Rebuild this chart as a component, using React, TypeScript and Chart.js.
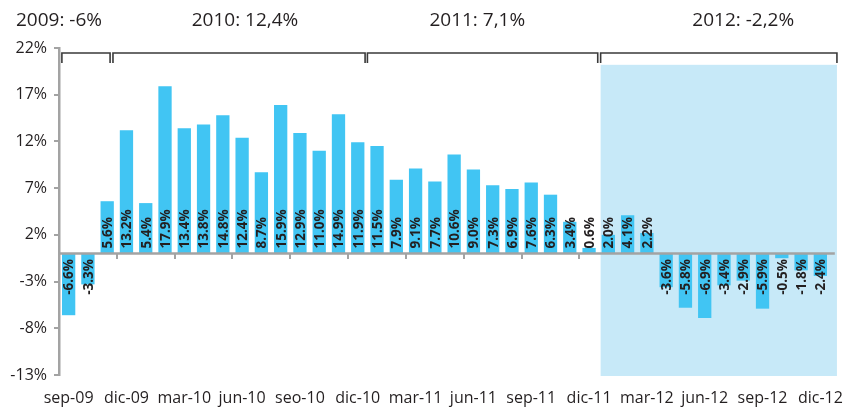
import React, { useEffect, useRef } from "react";
import { Chart, registerables } from "chart.js";

Chart.register(...registerables);

const months = [
  "sep-09", "oct-09", "nov-09", "dic-09", "ene-10", "feb-10", "mar-10", "abr-10", "may-10", "jun-10",
  "jul-10", "ago-10", "seo-10", "oct-10", "nov-10", "dic-10", "ene-11", "feb-11", "mar-11", "abr-11",
  "may-11", "jun-11", "jul-11", "ago-11", "sep-11", "oct-11", "nov-11", "dic-11", "ene-12", "feb-12",
  "mar-12", "abr-12", "may-12", "jun-12", "jul-12", "ago-12", "sep-12", "oct-12", "nov-12", "dic-12",
];

const values = [
  -6.6, -3.3, 5.6, 13.2, 5.4, 17.9, 13.4, 13.8, 14.8, 12.4,
  8.7, 15.9, 12.9, 11.0, 14.9, 11.9, 11.5, 7.9, 9.1, 7.7,
  10.6, 9.0, 7.3, 6.9, 7.6, 6.3, 3.4, 0.6, 2.0, 4.1,
  2.2, -3.6, -5.8, -6.9, -3.4, -2.9, -5.9, -0.5, -1.8, -2.4,
];

const periodTitles = ["2009: -6%", "2010: 12,4%", "2011: 7,1%", "2012: -2,2%"];
const titleCenters = [-0.5, 9.15, 21.2, 35.0];
const bracketStarts = [-0.35, 2.3, 15.5, 27.6];
const bracketEnds = [2.15, 15.38, 27.45, 39.86];
const shadeRange = [27.6, 39.86];
const shadeTop = 20.2;
const zeroLineEnd = 39.75;

const BAR = "#41C5F3";
const SHADE = "#C7E9F8";
const AXIS = "#A3A3A3";
const TEXT = "#231F20";
const FONT = "'Open Sans', 'DejaVu Sans', sans-serif";

const decor = {
  id: "decor",
  beforeDatasetsDraw(chart: any) {
    const { ctx, scales, chartArea } = chart;
    const x = scales.x;
    const y = scales.y;
    const l = x.getPixelForValue(shadeRange[0]);
    const r = x.getPixelForValue(shadeRange[1]);
    const t = y.getPixelForValue(shadeTop);
    const b = chartArea.bottom + 1;
    ctx.save();
    ctx.fillStyle = SHADE;
    ctx.fillRect(l, t, r - l, b - t);
    ctx.restore();
  },
  afterDatasetsDraw(chart: any) {
    const { ctx, scales, chartArea } = chart;
    const x = scales.x;
    const y = scales.y;
    const zeroY = y.getPixelForValue(0);
    ctx.save();
    // zero line
    ctx.strokeStyle = AXIS;
    ctx.lineWidth = 2.5;
    ctx.beginPath();
    ctx.moveTo(chartArea.left, zeroY);
    ctx.lineTo(x.getPixelForValue(zeroLineEnd), zeroY);
    ctx.stroke();

    // data labels
    const meta = chart.getDatasetMeta(0);
    ctx.fillStyle = TEXT;
    ctx.font = `700 13.5px ${FONT}`;
    ctx.textBaseline = "middle";
    meta.data.forEach((el: any, i: number) => {
      const v = values[i];
      const txt = v.toFixed(1) + "%";
      ctx.save();
      if (v >= 0) {
        ctx.translate(el.x, zeroY - 5);
        ctx.rotate(-Math.PI / 2);
        ctx.textAlign = "left";
      } else {
        ctx.translate(el.x, zeroY + 5.5);
        ctx.rotate(-Math.PI / 2);
        ctx.textAlign = "right";
      }
      ctx.fillText(txt, 0, 1);
      ctx.restore();
    });

    // brackets
    ctx.strokeStyle = "#3a3a3a";
    ctx.lineWidth = 1.6;
    const by = chartArea.top + 5;
    const bb = chartArea.top + 15;
    bracketStarts.forEach((s, i) => {
      const xs = x.getPixelForValue(s);
      const xe = x.getPixelForValue(bracketEnds[i]);
      ctx.beginPath();
      ctx.moveTo(xs, bb);
      ctx.lineTo(xs, by);
      ctx.lineTo(xe, by);
      ctx.lineTo(xe, bb);
      ctx.stroke();
    });

    // titles
    ctx.fillStyle = TEXT;
    ctx.font = `19px ${FONT}`;
    ctx.textAlign = "center";
    ctx.textBaseline = "middle";
    periodTitles.forEach((t, i) => {
      ctx.fillText(t, x.getPixelForValue(titleCenters[i]), chartArea.top - 27);
    });
    ctx.restore();
  },
};

export default function App() {
  const ref = useRef<HTMLCanvasElement | null>(null);
  useEffect(() => {
    if (!ref.current) return;
    const chart = new Chart(ref.current, {
      type: "bar",
      data: {
        labels: months,
        datasets: [
          {
            data: values,
            backgroundColor: BAR,
            borderWidth: 0,
            barPercentage: 0.69,
            categoryPercentage: 1,
            xAxisID: "x",
            yAxisID: "y",
          },
        ],
      },
      options: {
        animation: false,
        responsive: true,
        maintainAspectRatio: false,
        layout: { padding: { top: 48, right: 18, left: 0, bottom: 0 } },
        plugins: { legend: { display: false }, tooltip: { enabled: false }, title: { display: false } },
        scales: {
          x: {
            type: "category",
            position: "bottom",
            grid: { display: false, drawTicks: false },
            border: { display: false },
            ticks: {
              autoSkip: false,
              maxRotation: 0,
              minRotation: 0,
              padding: 14,
              color: TEXT,
              font: { family: FONT, size: 16 },
              callback: (_v: any, i: number) => (i % 3 === 0 ? months[i] : ""),
            },
            afterFit: (s: any) => {
              s.height = 34;
              s.paddingLeft = 0;
              s.paddingRight = 0;
            },
          },
          x2: {
            type: "category",
            position: { y: 0 },
            grid: {
              offset: true,
              drawOnChartArea: false,
              drawTicks: true,
              tickLength: 5,
              lineWidth: 2,
              color: (c: any) => (c.index > 0 && c.index % 3 === 0 && c.index < 40 ? AXIS : "rgba(0,0,0,0)"),
            },
            border: { display: false },
            ticks: { display: false, autoSkip: false },
            afterFit: (s: any) => {
              s.paddingLeft = 0;
              s.paddingRight = 0;
            },
          },
          y: {
            type: "linear",
            min: -13,
            max: 22,
            grid: { drawOnChartArea: false, drawTicks: true, tickLength: 5, color: AXIS, lineWidth: 2 },
            border: { display: true, color: AXIS, width: 2.5 },
            ticks: {
              stepSize: 5,
              padding: 7,
              color: TEXT,
              font: { family: FONT, size: 16 },
              callback: (v: any) => `${v}%`,
            },
            afterFit: (s: any) => {
              s.width = 59;
              s.paddingTop = 0;
              s.paddingBottom = 0;
            },
          },
        },
      } as any,
      plugins: [decor],
    });
    return () => chart.destroy();
  }, []);
  return (
    <div style={{ position: "fixed", left: 0, top: 0, width: 848, height: 409, background: "#fff" }}>
      <canvas ref={ref} />
    </div>
  );
}
